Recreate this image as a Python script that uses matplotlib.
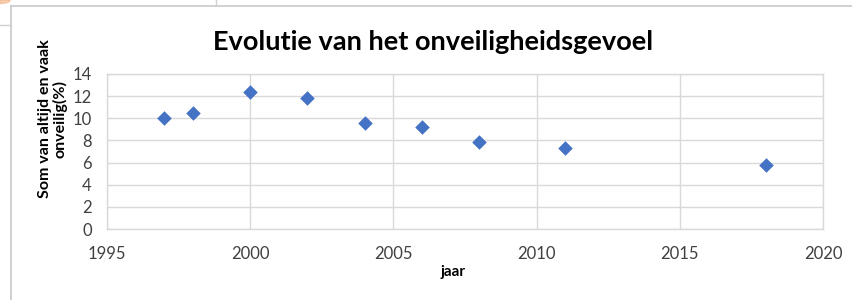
import matplotlib
matplotlib.use("Agg")
import matplotlib.pyplot as plt
from matplotlib.lines import Line2D
from matplotlib.patches import Wedge

# survey years and share of people that feel (always or often) unsafe
years = [1997, 1998, 2000, 2002, 2004, 2006, 2008, 2011, 2018]
unsafe_pct = [10.0, 10.5, 12.4, 11.8, 9.6, 9.2, 7.9, 7.3, 5.8]

x_ticks = [1995, 2000, 2005, 2010, 2015, 2020]
y_ticks = [0, 2, 4, 6, 8, 10, 12, 14]

W, H = 853, 300
fig = plt.figure(figsize=(W / 100, H / 100), dpi=100)
fig.patch.set_facecolor("white")

# plot area in pixels: left 107, right 823, top 74, bottom 229
ax = fig.add_axes([107 / W, 1 - 229 / H, (823 - 107) / W, (229 - 74) / H])
ax.scatter(years, unsafe_pct, marker="D", s=55, color="#4472C4", zorder=3,
           linewidths=0)

ax.set_xlim(1995, 2020)
ax.set_ylim(0, 14)
ax.set_xticks(x_ticks)
ax.set_yticks(y_ticks)
ax.grid(True, color="#d9d9d9", linewidth=1, zorder=0)
for s in ax.spines.values():
    s.set_color("#d9d9d9")
    s.set_linewidth(1)
ax.tick_params(length=0, labelsize=12, labelcolor="#404040")
ax.tick_params(axis="x", pad=12)
ax.tick_params(axis="y", pad=11)
for lab in ax.get_xticklabels() + ax.get_yticklabels():
    lab.set_family("Lato")

ax.set_xlabel("jaar", fontsize=11, fontweight="bold", family="Lato")
ax.xaxis.set_label_coords((453 - 107) / 716, (229 - 272) / 155, transform=ax.transAxes)
ax.xaxis.label.set_va("center")
ax.set_ylabel("Som van altijd en vaak\nonveilig(%)", fontsize=11.5, fontweight="bold",
              family="Lato", linespacing=1.05)
ax.yaxis.set_label_coords((53 - 107) / 716, (229 - 119) / 155, transform=ax.transAxes)
ax.yaxis.label.set_va("center")

fig.text(433 / W, 1 - 42 / H, "Evolutie van het onveiligheidsgevoel",
         ha="center", va="center", fontsize=19.5, fontweight="bold", family="Lato")

# screenshot frame around the chart
fig.add_artist(Line2D([11 / W, 1], [1 - 6 / H, 1 - 6 / H], color="#c8c8c8", lw=1.2))
fig.add_artist(Line2D([11 / W, 11 / W], [0, 1 - 6 / H], color="#c8c8c8", lw=1.2))
fig.add_artist(Line2D([0, 11 / W], [1 - 25 / H, 1 - 25 / H], color="#d0d0d0", lw=1))
fig.add_artist(Line2D([216 / W, 216 / W], [1 - 5 / H, 1], color="#d0d0d0", lw=1))
fig.add_artist(Wedge((0, 1), 0.012, 270, 360, color="#f4b183", alpha=0.6,
                     transform=fig.transFigure))

fig.savefig("out.png", dpi=100)
